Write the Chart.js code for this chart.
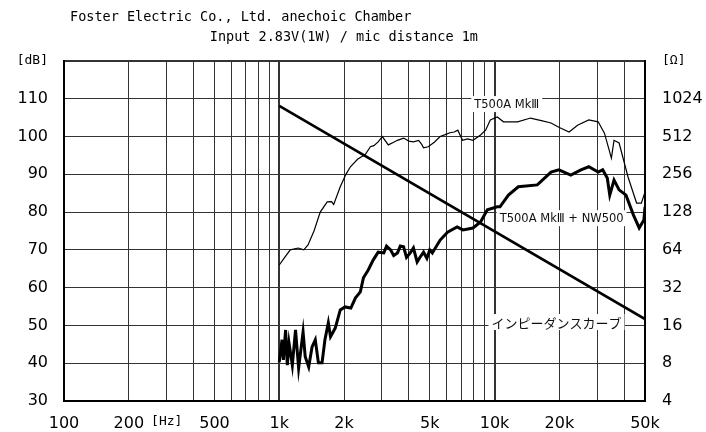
<!DOCTYPE html>
<html lang="ja">
  <head>
    <meta charset="UTF-8" />
    <title>T500A MkIII frequency response</title>
    <script src="https://cdn.jsdelivr.net/npm/chart.js"></script>
    <style>
      body {
        margin: 0;
        background: #fff;
      }
      .chart-box {
        width: 706px;
        height: 432px;
      }
    </style>
  </head>
  <body>
    <div class="chart-box">
      <canvas id="fr"></canvas>
    </div>

    <script>
      // T500A MkIII alone (thin line)
      const soloFreq = [1000, 1060, 1125, 1225, 1300, 1360, 1450, 1550, 1670, 1750, 1790, 1920, 2040, 2140, 2310, 2400, 2500, 2650, 2750, 2880, 3010, 3210, 3400, 3540, 3780, 4000, 4200, 4440, 4580, 4680, 4920, 5250, 5590, 5900, 6200, 6500, 6750, 7100, 7500, 7940, 8610, 9090, 9560, 10300, 11000, 12800, 14700, 16500, 18300, 20000, 22200, 24300, 27400, 30300, 32400, 34900, 35900, 37900, 41700, 45700, 48100, 50000];
      const soloDb = [66, 68, 70, 70.5, 70, 71.3, 75, 80, 82.7, 82.8, 82, 86.7, 90, 92, 94, 94.6, 95.1, 97.3, 97.6, 98.6, 100, 97.8, 98.5, 99, 99.6, 98.8, 98.6, 99, 98, 97, 97.3, 98.5, 100, 100.5, 101, 101.2, 101.7, 99, 99.4, 99, 100.4, 101.7, 104.4, 105.2, 103.9, 103.9, 104.9, 104.2, 103.6, 102.4, 101.2, 103, 104.4, 103.9, 100.9, 94.3, 99, 98.3, 89.3, 82.4, 82.4, 85.3];

      // T500A MkIII + NW500 (thick line)
      const comboFreq = [1000, 1030, 1045, 1070, 1090, 1110, 1150, 1190, 1230, 1290, 1320, 1370, 1420, 1470, 1520, 1580, 1630, 1690, 1730, 1820, 1920, 2020, 2150, 2260, 2380, 2460, 2590, 2730, 2880, 3060, 3150, 3290, 3400, 3540, 3650, 3780, 3900, 4060, 4200, 4370, 4500, 4680, 4850, 5000, 5140, 5590, 6050, 6700, 7130, 7940, 8610, 9260, 10300, 10600, 11600, 12900, 15800, 18300, 19900, 22600, 25200, 27400, 30300, 31800, 33400, 34300, 35900, 37900, 40800, 44200, 47000, 49400, 50000];
      const comboDb = [40.3, 46.2, 40.9, 48.8, 39.5, 45.4, 39.5, 48.8, 38.7, 48.3, 41.7, 39, 44.3, 46.2, 40.1, 40.1, 46.2, 50.7, 47, 49.3, 54.1, 54.9, 54.6, 57.3, 58.9, 62.6, 64.7, 67.3, 69.4, 69.2, 71, 70, 68.5, 69.2, 71, 70.8, 68, 69.2, 70.5, 66.8, 68, 69.4, 67.8, 70, 69.2, 72.6, 74.7, 76.1, 75.3, 75.8, 77.4, 80.6, 81.4, 81.4, 84.5, 86.7, 87.2, 90.6, 91.2, 89.8, 91.2, 92, 90.6, 91.2, 89, 84.5, 88.5, 85.9, 84.5, 79.2, 75.8, 77.9, 81.4];

      // impedance curve, right axis [Ω]
      const impFreq = [1000, 50000];
      const impOhm = [900, 18];

      // axis ticks
      const dbTicks = [30, 40, 50, 60, 70, 80, 90, 100, 110, 120];
      const ohmTicks = [4, 8, 16, 32, 64, 128, 256, 512, 1024, 2048];
      const hzTicks = [100, 200, 300, 400, 500, 600, 700, 800, 900, 1000, 2000, 3000, 4000, 5000, 6000, 7000, 8000, 9000, 10000, 20000, 30000, 40000, 50000];
      const hzLabels = { 100: "100", 200: "200", 300: "[Hz]", 500: "500", 1000: "1k", 2000: "2k", 5000: "5k", 10000: "10k", 20000: "20k", 50000: "50k" };

      const titleLines = ["Foster Electric Co., Ltd. anechoic Chamber", "Input 2.83V(1W) / mic distance 1m"];

      // in-plot captions, placed with the left (dB) scale
      const captions = [
        { text: "T500A MkⅢ", freq: 11400, db: 108.6, font: '11.5px "DejaVu Sans"' },
        { text: "T500A MkⅢ + NW500", freq: 20500, db: 78.4, font: '11.5px "DejaVu Sans"' },
        { text: "インピーダンスカーブ", freq: 19400, db: 50.9, font: '13px "Noto Sans CJK JP"' },
      ];

      const toPoints = (xs, ys) => xs.map((x, i) => ({ x: x, y: ys[i] }));
      const unitFont = { family: "DejaVu Sans Mono", size: 13 };
      const numFont = { family: "DejaVu Sans", size: 16 };

      // title lines + captions with white boxes
      const textPlugin = {
        id: "texts",
        afterDraw(chart) {
          const ctx = chart.ctx;
          ctx.save();
          ctx.fillStyle = "#000";
          ctx.font = '13.5px "DejaVu Sans Mono"';
          ctx.textBaseline = "middle";
          ctx.textAlign = "left";
          ctx.fillText(titleLines[0], 70, 17);
          ctx.textAlign = "right";
          ctx.fillText(titleLines[1], 478, 37);

          const xs = chart.scales.x;
          const ys = chart.scales.y;
          ctx.textAlign = "center";
          captions.forEach((c) => {
            const px = xs.getPixelForValue(c.freq);
            const py = ys.getPixelForValue(c.db);
            ctx.font = c.font;
            const w = ctx.measureText(c.text).width;
            ctx.fillStyle = "#fff";
            ctx.fillRect(px - w / 2 - 3, py - 8, w + 6, 16);
            ctx.fillStyle = "#111";
            ctx.fillText(c.text, px, py + 1);
          });
          ctx.restore();
        },
      };

      new Chart(document.getElementById("fr"), {
        type: "line",
        data: {
          datasets: [
            {
              label: "T500A MkIII",
              data: toPoints(soloFreq, soloDb),
              borderColor: "#000",
              borderWidth: 1.2,
              yAxisID: "y",
            },
            {
              label: "T500A MkIII + NW500",
              data: toPoints(comboFreq, comboDb),
              borderColor: "#000",
              borderWidth: 3,
              yAxisID: "y",
            },
            {
              label: "impedance",
              data: toPoints(impFreq, impOhm),
              borderColor: "#000",
              borderWidth: 2.6,
              yAxisID: "yR",
            },
          ],
        },
        options: {
          responsive: true,
          maintainAspectRatio: false,
          animation: false,
          events: [],
          elements: { point: { radius: 0 }, line: { tension: 0 } },
          layout: { padding: { top: 61, left: 0, right: 0, bottom: 0 } },
          plugins: { legend: { display: false }, tooltip: { enabled: false } },
          scales: {
            x: {
              type: "logarithmic",
              min: 100,
              max: 50000,
              afterBuildTicks: (s) => {
                s.ticks = hzTicks.map((v) => ({ value: v }));
              },
              afterFit: (s) => {
                s.height = 31;
              },
              border: { display: true, color: "#000", width: 2 },
              grid: {
                color: "#333",
                lineWidth: (c) => (c.tick && (c.tick.value === 1000 || c.tick.value === 10000) ? 2 : 1),
                drawTicks: false,
              },
              ticks: {
                autoSkip: false,
                maxRotation: 0,
                padding: 13,
                color: "#000",
                font: (c) => (c.tick && c.tick.value === 300 ? unitFont : numFont),
                callback: (v) => hzLabels[v] || "",
              },
            },
            y: {
              position: "left",
              min: 30,
              max: 120,
              afterBuildTicks: (s) => {
                s.ticks = dbTicks.map((v) => ({ value: v }));
              },
              afterFit: (s) => {
                s.width = 64;
              },
              border: { display: true, color: "#000", width: 2 },
              grid: {
                color: "#333",
                lineWidth: (c) => (c.tick && c.tick.value === 120 ? 2 : 1),
                drawTicks: false,
              },
              ticks: {
                padding: 16,
                color: "#000",
                font: (c) => (c.tick && c.tick.value === 120 ? unitFont : numFont),
                callback: (v) => (v === 120 ? "[dB]" : v),
              },
            },
            yR: {
              type: "logarithmic",
              position: "right",
              min: 4,
              max: 2048,
              afterBuildTicks: (s) => {
                s.ticks = ohmTicks.map((v) => ({ value: v }));
              },
              afterFit: (s) => {
                s.width = 61;
              },
              border: { display: true, color: "#000", width: 2 },
              grid: { display: false, drawTicks: false },
              ticks: {
                padding: 17,
                color: "#000",
                font: (c) => (c.tick && c.tick.value === 2048 ? unitFont : numFont),
                callback: (v) => (v === 2048 ? "[Ω]" : v),
              },
            },
          },
        },
        plugins: [textPlugin],
      });
    </script>
  </body>
</html>
